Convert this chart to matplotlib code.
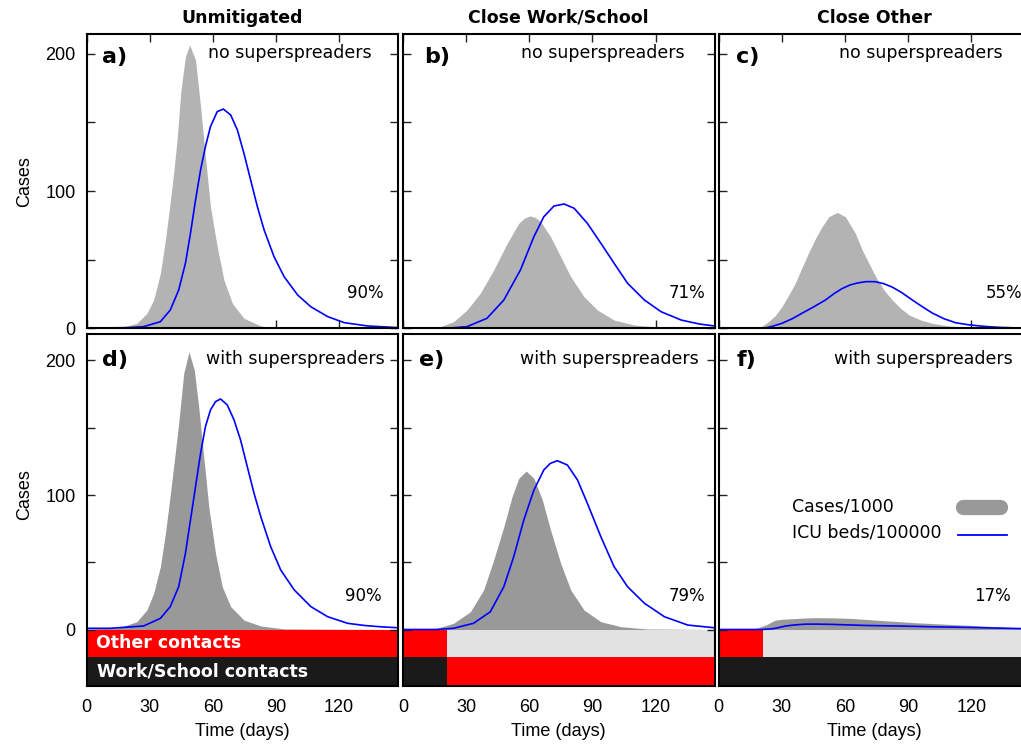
import matplotlib
matplotlib.use("Agg")
import matplotlib.pyplot as plt
from matplotlib.lines import Line2D

# ── Data ────────────────────────────────────────────────────────────────────
# a) Unmitigated, no superspreaders
a_cases_day = [0, 14, 16, 20, 23.9, 28.7, 31.9, 35.1, 37.5, 39.5, 41.4, 43, 44.9, 47, 49, 51.8,
               54.2, 56.5, 58.9, 62.1, 65.3, 69.3, 74.8, 82.8, 90.7, 148]
a_cases = [0, 0, 0.7, 2, 3.6, 10.9, 20.6, 40, 64.4, 88.6, 113, 137, 173.7, 198, 206.5, 195.6,
           161.5, 125, 88.6, 59.5, 35.2, 18.2, 7.3, 1.7, 0.3, 0]
a_icu_day = [0, 20, 27.1, 35.1, 39.8, 43.8, 47, 49.4, 51.8, 54.2, 56.5, 58.9, 62.1, 65, 68.5,
             71.7, 74.8, 78, 81.2, 84.4, 89.1, 93.9, 100.3, 106.6, 114.6, 122.5, 133.6, 148]
a_icu = [0, 0.5, 1.2, 4.8, 13.3, 27.9, 47.4, 69.2, 93.5, 115.4, 132.4, 147, 157.9, 159.8, 155.5,
         144.5, 127.5, 108, 88.6, 71.6, 52.2, 37.6, 24.3, 15.7, 8.5, 4.1, 1.7, 0.5]

# b) Close Work/School, no superspreaders
b_cases_day = [0, 14.6, 17.7, 24, 30.4, 36.7, 43.1, 49.5, 55, 57.7, 60.3, 62.8, 65.4, 70.1, 74.9,
               79.7, 86, 92.4, 100.3, 109.9, 120, 148]
b_cases = [0, 0, 1.2, 4.8, 13.3, 25.5, 42.5, 62, 76.5, 80.3, 81.9, 80.8, 77.7, 66.8, 52.2,
           37.6, 23, 13.3, 6, 2.4, 1, 0]
b_icu_day = [0, 14.6, 24, 30.4, 39.9, 47.9, 55.8, 62.2, 66.9, 71.7, 76.5, 81.3, 87.6, 94, 100.3,
             106.7, 114.7, 122.6, 132.2, 140.9, 148]
b_icu = [0, 0, 0.4, 1.2, 7.3, 20.6, 42.5, 66.8, 81.3, 89.1, 90.6, 87.5, 76.5, 62, 47.4,
         32.8, 20.6, 12.1, 6, 3.1, 1.7]

# c) Close Other, no superspreaders
c_cases_day = [0, 17.3, 20.5, 23.7, 27, 30, 33, 36.4, 39.5, 42.7, 46, 49.1, 52.3, 56.3, 60.2,
               65, 68.2, 71.5, 74.6, 78.5, 82.5, 86.5, 90.5, 96, 101.6, 108, 114, 120, 148]
c_cases = [0, 0, 1.5, 4.8, 9.5, 15.7, 23.5, 33, 44, 55, 65.5, 74, 81.3, 84.5, 81.3,
           69, 57, 47, 37.6, 28, 20.6, 14.5, 9.7, 6, 3.6, 2, 1, 0.3, 0]
c_icu_day = [0, 21.6, 25.5, 30, 35, 39.6, 45, 50.7, 55, 58.7, 62.3, 65.8, 70, 74.2, 78.5, 82.5,
             87, 92, 97, 101.6, 107, 112.7, 119, 125.5, 133, 141, 148]
c_icu = [0, 0, 1.5, 3.6, 7, 11, 15.5, 20.6, 25.5, 29, 31.5, 33, 34, 34, 32.5, 30,
         26, 20.6, 15.5, 11, 7, 4, 2.5, 1.5, 0.7, 0.3, 0.2]

# d) Unmitigated, with superspreaders
d_cases_day = [0, 12.8, 16, 23.9, 28.7, 31.9, 35.1, 37.5, 39.5, 41.4, 43.8, 46.2, 48.7, 51.2,
               53.3, 55.7, 58.1, 61.3, 64.5, 68.5, 74.8, 82.8, 93.9, 148]
d_cases = [0.5, 1, 1.6, 5.8, 14.5, 26.9, 46.7, 71.5, 96.3, 121, 153.3, 190.5, 206.5, 193,
           165.7, 128.5, 91.3, 56.6, 31.8, 17, 7, 2.6, 0.5, 0]
d_icu_day = [0, 11.2, 27.1, 35.1, 39.8, 43.8, 47, 49.4, 51.8, 54.2, 56.5, 58.9, 61.3, 63.7, 66.9,
             70.1, 73.2, 76.4, 79.6, 82.8, 87.5, 92.3, 98.7, 106.6, 114.6, 124.1, 132, 140, 148]
d_icu = [0.9, 0.9, 2.6, 8.3, 17, 31.8, 56.6, 81.4, 106.2, 131, 150.8, 163.2, 169.4, 171.4, 166.9,
         155.8, 140.9, 121, 101.3, 83.9, 61.6, 44.2, 29.4, 17, 9.5, 4.6, 3, 2, 1.3]

# e) Close Work/School, with superspreaders
e_cases_day = [0, 16.1, 24, 32, 38.3, 43.1, 47.9, 51.8, 55, 58.5, 62.2, 66.2, 70.1, 74.9, 79.7,
               86, 94, 103.5, 116, 148]
e_cases = [0, 0.9, 4.6, 13.2, 29.4, 51.7, 76.4, 98.7, 112.4, 117.8, 112.4, 96.3, 74, 49.2, 29.4,
           14.5, 5.8, 2.1, 0.4, 0]
e_icu_day = [0, 16, 24, 33.5, 41.5, 47.9, 52.6, 57.4, 62.2, 66.9, 70, 73.3, 78.1, 82.9, 87.6,
             94, 100.3, 106.7, 114.7, 124.2, 135.3, 148]
e_icu = [0, 0, 0.9, 4.6, 13.2, 31.8, 54.1, 81.4, 103.7, 118.6, 123.5, 125.5, 122.3, 111.2, 93.8,
         69, 46.7, 31.8, 19.5, 9.5, 3.3, 1.3]

# f) Close Other, with superspreaders
f_cases_day = [0, 15.9, 19, 22.3, 25, 27, 30, 35, 40, 46, 54, 62, 70, 78, 86, 93.8, 102, 109.7,
               118, 125.6, 134, 143, 148]
f_cases = [0, 0, 1.5, 3.3, 5.5, 7, 7.6, 8, 8.5, 8.8, 8.7, 8.3, 7.5, 6.6, 5.8, 5, 4.4, 3.8,
           3.2, 2.6, 1.9, 1.2, 1]
f_icu_day = [0, 20, 25.4, 28.5, 31.8, 36, 41.4, 47, 54, 62, 70, 78, 86, 94, 102, 110, 118,
             125.6, 134, 143, 148]
f_icu = [0, 0, 0.5, 1.4, 2.6, 3.4, 4, 4, 3.8, 3.4, 3, 2.8, 2.6, 2.3, 2, 1.8, 1.6,
         1.3, 1, 0.7, 0.6]

col_titles = ["Unmitigated", "Close Work/School", "Close Other"]
panel_tags = ["a)", "b)", "c)", "d)", "e)", "f)"]
attack_rates = ["90%", "71%", "55%", "90%", "79%", "17%"]
T_END = 148
T_CLOSE = 21       # Tag der Maßnahme

# Kontaktbalken: (start, dauer, farbe)
C_RED = "#ff0000"; C_BLK = "#1a1a1a"; C_OFF = "#e2e2e2"
other_bars = [[(0, T_END, C_RED)],
              [(0, T_CLOSE, C_RED), (T_CLOSE, T_END - T_CLOSE, C_OFF)],
              [(0, T_CLOSE, C_RED), (T_CLOSE, T_END - T_CLOSE, C_OFF)]]
work_bars = [[(0, T_END, C_BLK)],
             [(0, T_CLOSE, C_BLK), (T_CLOSE, T_END - T_CLOSE, C_RED)],
             [(0, T_END, C_BLK)]]

# ── Layout ─────────────────────────────────────────────────────────────────
W, H = 1021, 745
TICKFONT = "Liberation Sans"
fig = plt.figure(figsize=(W / 100, H / 100), dpi=100, facecolor="white")

def px_axes(l, t, r, b):
    return fig.add_axes([l / W, 1 - b / H, (r - l) / W, (b - t) / H])

lefts = [86.5, 403.0, 718.7]
PW = 311.5

cases_all = [(a_cases_day, a_cases), (b_cases_day, b_cases), (c_cases_day, c_cases),
             (d_cases_day, d_cases), (e_cases_day, e_cases), (f_cases_day, f_cases)]
icu_all = [(a_icu_day, a_icu), (b_icu_day, b_icu), (c_icu_day, c_icu),
           (d_icu_day, d_icu), (e_icu_day, e_icu), (f_icu_day, f_icu)]

# Textpositionen (Achsenbruch)
tag_x = [0.051, 0.068, 0.055, 0.049, 0.050, 0.056]
sub_x = [0.916, 0.904, 0.910, 0.958, 0.948, 0.944]
pct_x = [0.955, 0.971, 0.975, 0.948, 0.971, 0.937]

axes = []
for i in range(6):
    row, col = divmod(i, 3)
    if row == 0:
        ax = px_axes(lefts[col], 34, lefts[col] + PW, 328.3)
        ax.set_ylim(0, 214.5)
        fill_c = "#b3b3b3"
        ty, sy, py = 0.922, 0.934, 0.119
    else:
        ax = px_axes(lefts[col], 334, lefts[col] + PW, 686)
        ax.set_ylim(-42, 219.7)
        fill_c = "#999999"
        ty, sy, py = 0.926, 0.928, 0.256
    ax.set_xlim(0, T_END)
    t, v = cases_all[i]
    ax.fill_between(t, v, 0, color=fill_c, linewidth=0, zorder=2)
    t, v = icu_all[i]
    ax.plot(t, v, color="#0000ff", lw=1.2, zorder=3, solid_joinstyle="round")

    if row == 1:
        for s, w, c in other_bars[col]:
            ax.broken_barh([(s, w)], (-20.4, 20.4), facecolors=c, linewidth=0, zorder=1)
        for s, w, c in work_bars[col]:
            ax.broken_barh([(s, w)], (-42, 21.6), facecolors=c, linewidth=0, zorder=1)

    ax.set_xticks([0, 30, 60, 90, 120])
    ax.set_yticks([0, 50, 100, 150, 200])
    ax.tick_params(direction="in", length=6, width=1, top=True, right=True,
                   labelsize=13, color="#222222")
    if col == 0:
        ax.set_yticklabels(["0", "", "100", "", "200"], family=TICKFONT)
        ax.tick_params(axis="y", pad=8)
    else:
        ax.set_yticklabels([])
    if row == 0:
        ax.set_xticklabels([])
    else:
        ax.set_xticklabels(["0", "30", "60", "90", "120"], family=TICKFONT)
        ax.tick_params(axis="x", which="major", bottom=True, length=0, pad=9)
    for sp in ax.spines.values():
        sp.set_linewidth(1.5); sp.set_zorder(5)

    ax.text(tag_x[i], ty, panel_tags[i], transform=ax.transAxes, fontsize=16,
            fontweight="bold", ha="left", va="center", zorder=6)
    ax.text(sub_x[i], sy, "no superspreaders" if row == 0 else "with superspreaders",
            transform=ax.transAxes, fontsize=12.5, ha="right", va="center", zorder=6)
    ax.text(pct_x[i], py, attack_rates[i], transform=ax.transAxes, fontsize=12,
            ha="right", va="center", zorder=6)
    axes.append(ax)

# Balkenbeschriftung
axd = axes[3]
axd.text(4.4, -10.2, "Other contacts", color="white", fontweight="bold", fontsize=12.5,
         ha="left", va="center", zorder=6)
axd.text(4.9, -31.2, "Work/School contacts", color="white", fontweight="bold", fontsize=12.5,
         ha="left", va="center", zorder=6)

# Legende in f)
axf = axes[5]
axf.text(0.234, 0.509, "Cases/1000", transform=axf.transAxes, fontsize=12.5,
         ha="left", va="center")
axf.text(0.234, 0.435, "ICU beds/100000", transform=axf.transAxes, fontsize=12.5,
         ha="left", va="center")
axf.add_line(Line2D([0.785, 0.903], [0.509, 0.509], transform=axf.transAxes,
                    color="#999999", lw=11, solid_capstyle="round"))
axf.add_line(Line2D([0.768, 0.926], [0.428, 0.428], transform=axf.transAxes,
                    color="#0000ff", lw=1.3))

# Titel, Achsenbeschriftung
for col in range(3):
    cx = (lefts[col] + PW / 2) / W
    fig.text(cx, 1 - 18 / H, col_titles[col], fontsize=12.5, fontweight="bold",
             ha="center", va="center")
    fig.text(cx, 1 - 731.5 / H, "Time (days)", family=TICKFONT, fontsize=13,
             ha="center", va="center")
fig.text(25 / W, 1 - 182 / H, "Cases", family=TICKFONT, fontsize=13, rotation=90,
         ha="center", va="center")
fig.text(25 / W, 1 - 495 / H, "Cases", family=TICKFONT, fontsize=13, rotation=90,
         ha="center", va="center")

fig.savefig("out.png", dpi=100, facecolor="white")
